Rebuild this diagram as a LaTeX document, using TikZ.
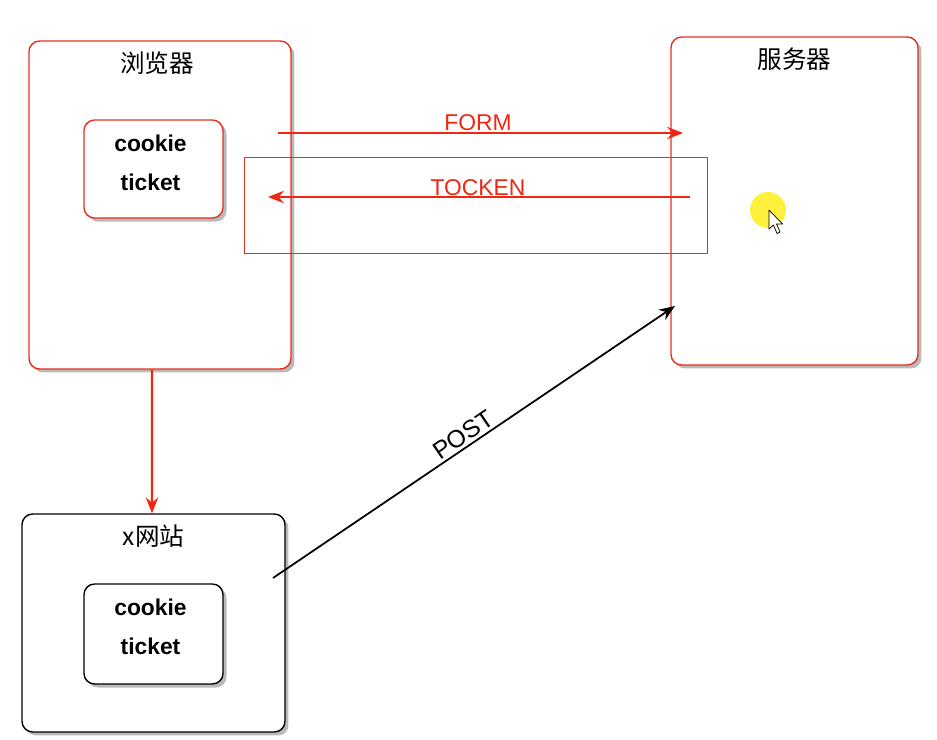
\documentclass[tikz,border=0pt]{standalone}
\usepackage{fontspec}
\setmainfont{Liberation Sans}
\newfontfamily\cjk{Noto Sans CJK SC}
\usetikzlibrary{shadows, arrows.meta, positioning}

\definecolor{boxred}{RGB}{226,48,36}
\definecolor{arrowred}{RGB}{240,38,18}
\definecolor{hilite}{RGB}{255,240,60}

\begin{document}
\begin{tikzpicture}[x=0.02cm, y=-0.02cm,
    panel/.style={draw=boxred, line width=0.8pt, rounded corners=6pt, fill=white,
        drop shadow={shadow xshift=2pt, shadow yshift=-2pt, opacity=0.6, fill=black!45}},
    store/.style={align=center, font=\fontsize{13}{22}\selectfont\bfseries},
    title/.style={font=\cjk\fontsize{14}{16}\selectfont, anchor=center},
    redarrow/.style={draw=arrowred, line width=1.2pt, -{Stealth[length=9pt, width=7pt]}},
    tag/.style={font=\fontsize{13}{15}\selectfont}]
            \useasboundingbox (0,0) rectangle (937,740);

            % Browser with its cookie
            \node[panel, minimum width=5.24cm, minimum height=6.56cm] (browser) at (160,205) {};
            \node[title] (browserT) at ([xshift=-0.06cm,yshift=-0.46cm]browser.north) {浏览器};
            \node[panel, minimum width=2.78cm, minimum height=1.96cm] (bcookie) at (153.5,169) {};
            \node[store] (bticket) at ([xshift=-0.06cm,yshift=0.12cm]bcookie.center) {cookie\\ticket};

            % Server
            \node[panel, minimum width=4.94cm, minimum height=6.56cm] (server) at (794.5,201) {};
            \node[title] (serverT) at ([yshift=-0.46cm]server.north) {服务器};

            % x site with the copied cookie
            \node[panel, draw=black, minimum width=5.26cm, minimum height=4.36cm] (xsite) at (153.5,623) {};
            \node[title] (xsiteT) at ([yshift=-0.46cm]xsite.north) {x网站};
            \node[panel, draw=black, minimum width=2.78cm, minimum height=2.0cm] (xcookie) at (153.5,634) {};
            \node[store] (xticket) at ([xshift=-0.06cm,yshift=0.14cm]xcookie.center) {cookie\\ticket};

            % Token frame (thin, square)
            \node[draw=boxred, line width=0.5pt, minimum width=9.26cm, minimum height=1.92cm] (frame) at (475.5,205) {};

            % FORM / TOCKEN
            \coordinate (formS) at (278,133);
            \coordinate (formE) at (683,133);
            \coordinate (tokS) at (690,197);
            \coordinate (tokE) at (268,197);
            \draw[redarrow] (formS) -- (formE);
            \node[tag, text=arrowred] (formL) at (478,123) {FORM};
            \draw[redarrow] (tokS) -- (tokE);
            \node[tag, text=arrowred] (tokL) at (478,188) {TOCKEN};

            % Browser -> x site
            \draw[redarrow] ([xshift=-0.16cm]browser.south) -- ([xshift=-0.03cm]xsite.north);

            % POST
            \coordinate (postS) at (273,578);
            \coordinate (postE) at (675,306);
            \draw[line width=1pt, -{Stealth[length=9pt, width=7pt]}] (postS) -- (postE);
            \node[tag, font=\fontsize{14}{16}\selectfont, rotate=34.1, inner sep=0pt] (postL) at (463,435) {POST};

            % Pointer
            \fill[hilite] (768,210) circle[radius=0.36cm];
            \draw[fill=white, line width=0.4pt, line join=round] (769,210) -- (769,229) -- (773.5,225) -- (777,233.5) -- (780,232) -- (776.5,224) -- (782.5,224) -- cycle;
        \end{tikzpicture}
\end{document}
